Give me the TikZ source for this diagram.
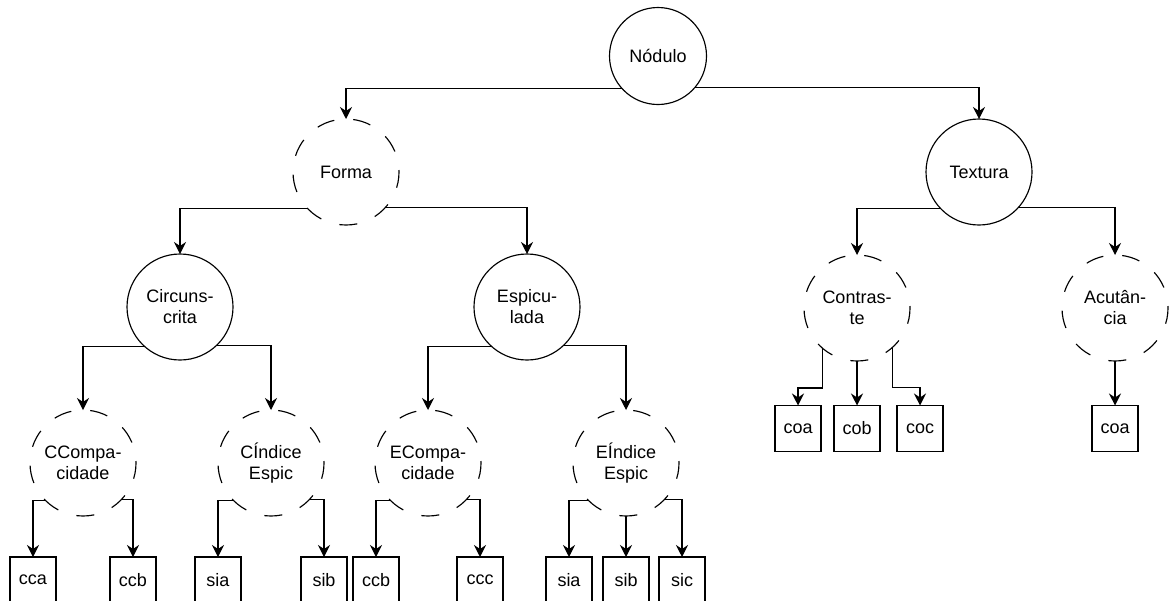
\documentclass[tikz,border=0pt]{standalone}
\usepackage{fontspec}
\setmainfont{Liberation Sans}
\usetikzlibrary{arrows.meta}
\begin{document}
\begin{tikzpicture}[x=1pt,y=-1pt,
  every node/.style={font=\fontsize{18}{21}\selectfont, align=center, draw=black, line width=1.15pt, inner sep=0pt, outer sep=0pt},
  solidc/.style={circle, minimum size=106pt},
  dashc/.style={circle, minimum size=106pt, dash pattern=on 18pt off 19pt, dash phase=16pt},
  leaf/.style={rectangle, minimum width=46pt, minimum height=46pt},
  arr/.style={draw=black, line width=1.15pt, -{Stealth[length=12pt,width=12pt,inset=4pt]}}]
\clip (0,0) rectangle (1169,600);

% concept nodes
\node[solidc, minimum size=97pt] (nod) at (658,56) {Nódulo};
\node[dashc]  (forma) at (346,172) {Forma};
\node[solidc] (tex)   at (979,172) {Textura};
\node[solidc] (circ)  at (180,307) {Circuns-\\crita};
\node[solidc] (espi)  at (527,307) {Espicu-\\lada};
\node[dashc]  (con)   at (857,308) {Contras-\\te};
\node[dashc]  (acu)   at (1115,308) {Acutân-\\cia};
\node[dashc]  (ccomp) at (83,463)  {CCompa-\\cidade};
\node[dashc]  (cind)  at (271,463) {CÍndice\\Espic};
\node[dashc]  (ecomp) at (428,463) {ECompa-\\cidade};
\node[dashc]  (eind)  at (626,463) {EÍndice\\Espic};

% leaves
\node[leaf] (b1) at (33,580)  {cca};
\node[leaf] (b2) at (133,580) {ccb};
\node[leaf] (b3) at (218,580) {sia};
\node[leaf] (b4) at (324,580) {sib};
\node[leaf] (b5) at (376,580) {ccb};
\node[leaf] (b6) at (480,580) {ccc};
\node[leaf] (b7) at (569,580) {sia};
\node[leaf] (b8) at (626,580) {sib};
\node[leaf] (b9) at (682,580) {sic};
\node[leaf] (t1) at (798,428.5)  {coa};
\node[leaf] (t2) at (857,428.5)  {cob};
\node[leaf] (t3) at (920,428.5)  {coc};
\node[leaf] (t4) at (1115,428.5) {coa};

% connectors
\draw[arr] (nod.-138.2) -| (forma.north);
\draw[arr] (nod.-41.8)  -| (tex.north);
\draw[arr] (forma.-137.2) -| (circ.north);
\draw[arr] (forma.-42.8)  -| (espi.north);
\draw[arr] (tex.-137.2) -| (con.north);
\draw[arr] (tex.-42.8)  -| (acu.north);
\draw[arr] (circ.-132.6) -| (ccomp.north);
\draw[arr] (circ.-47.4)  -| (cind.north);
\draw[arr] (espi.-132.6) -| (ecomp.north);
\draw[arr] (espi.-47.4)  -| (eind.north);
\draw[arr] (ccomp.-135.7) -| (b1.north);
\draw[arr] (ccomp.-44.3)  -| (b2.north);
\draw[arr] (cind.-135.7) -| (b3.north);
\draw[arr] (cind.-44.3)  -| (b4.north);
\draw[arr] (ecomp.-135.7) -| (b5.north);
\draw[arr] (ecomp.-44.3)  -| (b6.north);
\draw[arr] (eind.-135.7) -| (b7.north);
\draw[arr] (eind.south)  -- (b8.north);
\draw[arr] (eind.-44.3)  -| (b9.north);
\draw[arr] (con.-131) -- ++(0,40) -| (t1.north);
\draw[arr] (con.south) -- (t2.north);
\draw[arr] (con.-48)  -- ++(0,40) -| (t3.north);
\draw[arr] (acu.south) -- (t4.north);
\end{tikzpicture}
\end{document}
